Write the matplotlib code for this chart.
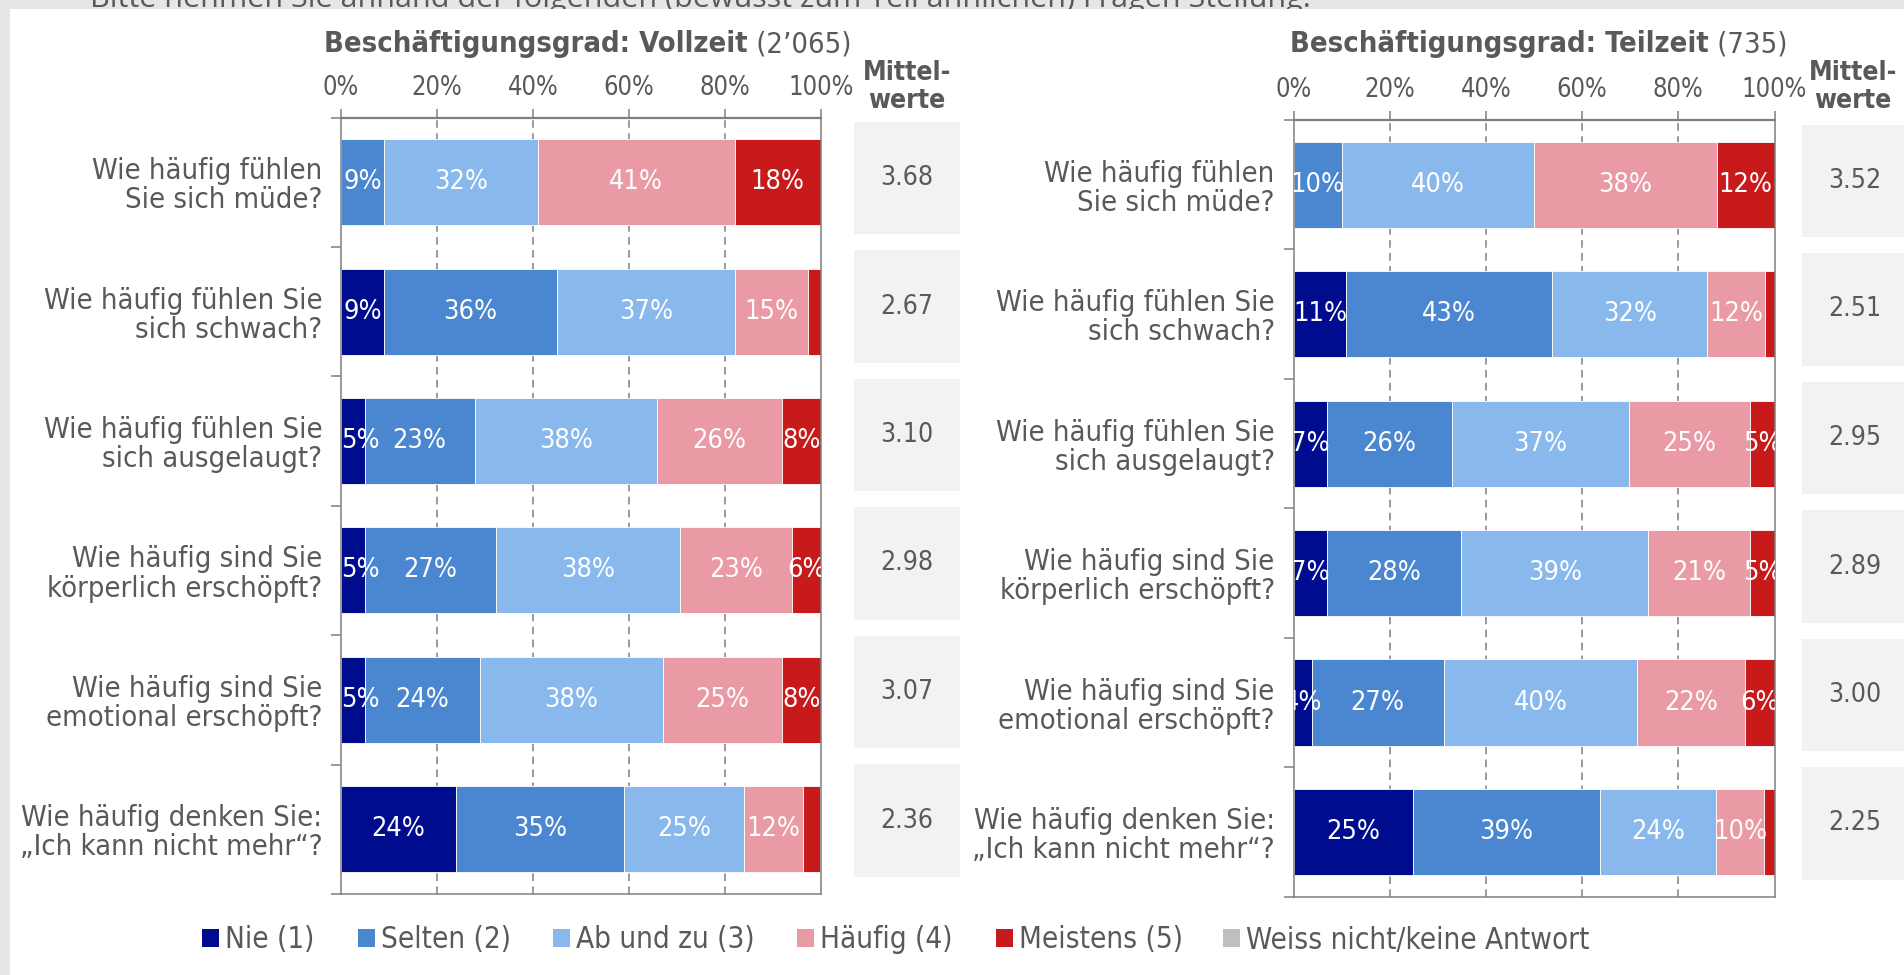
import os
import matplotlib
matplotlib.use("Agg")
import matplotlib.pyplot as plt
from matplotlib import font_manager
from matplotlib.patches import Rectangle, Patch
from matplotlib.ticker import FixedLocator, NullFormatter
import numpy as np

# ---------------------------------------------------------------- data
questions = [
    "Wie häufig fühlen\nSie sich müde?",
    "Wie häufig fühlen Sie\nsich schwach?",
    "Wie häufig fühlen Sie\nsich ausgelaugt?",
    "Wie häufig sind Sie\nkörperlich erschöpft?",
    "Wie häufig sind Sie\nemotional erschöpft?",
    "Wie häufig denken Sie:\n„Ich kann nicht mehr“?",
]
series_names = ["Nie (1)", "Selten (2)", "Ab und zu (3)", "Häufig (4)",
                "Meistens (5)", "Weiss nicht/keine Antwort"]
series_colors = ["#000C8E", "#4A87D0", "#88B8EC", "#E99AA4", "#C81A1B", "#BFBFBF"]

# Vollzeit (n = 2'065), shares in percent
vz_nie = [0.0, 8.9, 4.9, 4.9, 4.9, 23.9]
vz_selten = [8.9, 36.1, 23.0, 27.3, 24.0, 35.1]
vz_abundzu = [32.1, 37.0, 38.0, 38.4, 38.1, 24.9]
vz_haeufig = [41.0, 15.2, 26.0, 23.4, 24.9, 12.4]
vz_meistens = [18.0, 2.8, 8.1, 6.0, 8.1, 3.4]
vz_weissnicht = [0.0, 0.0, 0.0, 0.0, 0.0, 0.0]
vz_means = [3.68, 2.67, 3.10, 2.98, 3.07, 2.36]

# Teilzeit (n = 735), shares in percent
tz_nie = [0.0, 11.0, 6.9, 6.9, 3.8, 24.8]
tz_selten = [10.0, 42.8, 26.0, 28.0, 27.4, 38.9]
tz_abundzu = [39.9, 32.2, 36.9, 38.9, 40.3, 24.2]
tz_haeufig = [38.1, 12.1, 25.1, 21.1, 22.4, 10.0]
tz_meistens = [12.0, 1.9, 5.1, 5.1, 6.1, 2.1]
tz_weissnicht = [0.0, 0.0, 0.0, 0.0, 0.0, 0.0]
tz_means = [3.52, 2.51, 2.95, 2.89, 3.00, 2.25]

x_ticks = [0, 20, 40, 60, 80, 100]
x_ticklabels = ["0%", "20%", "40%", "60%", "80%", "100%"]

# ---------------------------------------------------------------- fonts
def pick_font():
    for f in font_manager.fontManager.ttflist:
        if os.path.basename(f.fname).lower() == "dejavusanscondensed.ttf":
            return "DejaVu Sans", "condensed", 1.0
    names = {f.name for f in font_manager.fontManager.ttflist}
    if "Liberation Sans Narrow" in names:
        return "Liberation Sans Narrow", "normal", 1.05
    return "DejaVu Sans", "normal", 0.9

FAMILY, STRETCH, FS = pick_font()
plt.rcParams["font.family"] = FAMILY
plt.rcParams["font.stretch"] = STRETCH
TXT = "#595959"
GRID = "#7F7F7F"

W, H = 1904, 975
fig = plt.figure(figsize=(W / 100, H / 100), dpi=100, facecolor="#E6E6E6")


def fx(x):
    return x / W


def fy(y):
    return 1 - y / H


def pt(px):
    return px * 0.72


# white sheet and the instruction line running above its top edge
fig.add_artist(Rectangle((fx(10), 0), 1 - fx(10), fy(9), transform=fig.transFigure,
                         facecolor="white", edgecolor="none", zorder=-1))
fig.text(fx(90), fy(7), "Bitte nehmen Sie anhand der folgenden (bewusst zum Teil ähnlichen) Fragen Stellung.",
         family="Open Sans", stretch="normal", fontsize=pt(30.5), color=TXT,
         ha="left", va="baseline", zorder=-2)


def draw_panel(box, series, title_bold, title_n, title_x, means, mbox, head_x,
               keep_left_inside):
    x0, x1, ytop, ybot = box
    ax = fig.add_axes([fx(x0), fy(ybot), fx(x1) - fx(x0), fy(ytop) - fy(ybot)])
    n = len(questions)
    y = np.arange(n)
    left = np.zeros(n)
    ax_w_px = x1 - x0
    for vals, col in zip(series, series_colors):
        vals = np.asarray(vals, dtype=float)
        mask = vals > 0
        ax.barh(y[mask], vals[mask], left=left[mask], height=0.665, color=col,
                edgecolor="white", linewidth=0.6, zorder=2)
        for yi, v, l in zip(y, vals, left):
            if v >= 3.5:
                xc = l + v / 2
                lbl = f"{v:.0f}%"
                if keep_left_inside:
                    half = len(lbl) * 0.34 * 27 / ax_w_px * 100
                    xc = max(xc, half + 0.3)
                ax.text(xc, yi, lbl, ha="center", va="center", color="white",
                        fontsize=pt(27) * FS, zorder=3, clip_on=True)
        left = left + vals

    ax.set_xlim(0, 100)
    ax.set_ylim(n - 0.5, -0.5)
    ax.set_facecolor("white")
    for s in ax.spines.values():
        s.set_color(GRID)
        s.set_linewidth(1.1)
    ax.spines["top"].set_linewidth(1.6)

    ax.xaxis.set_ticks_position("top")
    ax.set_xticks(x_ticks)
    ax.set_xticklabels(x_ticklabels)
    ax.tick_params(axis="x", which="major", direction="out", length=6.5, width=1.1,
                   color=GRID, pad=5.5, labelsize=pt(25.5) * FS, labelcolor=TXT)
    for gx in x_ticks[1:-1]:
        ax.axvline(gx, color=GRID, linewidth=1.1, linestyle=(0, (5, 3.5)), zorder=1)

    ax.set_yticks(y)
    ax.set_yticklabels(questions)
    ax.yaxis.set_minor_locator(FixedLocator(np.arange(n + 1) - 0.5))
    ax.yaxis.set_minor_formatter(NullFormatter())
    ax.tick_params(axis="y", which="major", length=0, pad=13.5,
                   labelsize=pt(29) * FS, labelcolor=TXT)
    ax.tick_params(axis="y", which="minor", direction="out", length=7, width=1.1,
                   color=GRID)
    for t in ax.get_yticklabels():
        t.set_linespacing(1.05)
        t.set_multialignment("right")

    # title: bold caption followed by the sample size
    r = fig.canvas.get_renderer()
    t1 = fig.text(fx(title_x), fy(44), title_bold, weight="bold", fontsize=pt(29) * FS,
                  color=TXT, ha="left", va="center")
    w1 = t1.get_window_extent(r).width
    fig.text(fx(title_x + w1), fy(44), title_n, fontsize=pt(29) * FS,
             color=TXT, ha="left", va="center")

    # mean-value column
    mx0, mx1, mtop, mbot = mbox
    mx = fig.add_axes([fx(mx0), fy(mbot), fx(mx1) - fx(mx0), fy(mtop) - fy(mbot)])
    mx.barh(y, [1] * n, left=0, height=0.872, color="#F2F2F2", edgecolor="none")
    for yi, m in zip(y, means):
        mx.text(0.5, yi, f"{m:.2f}", ha="center", va="center", color=TXT,
                fontsize=pt(26.5) * FS)
    mx.set_xlim(0, 1)
    mx.set_ylim(n - 0.5, -0.5)
    mx.axis("off")
    fig.text(fx(head_x), fy(87), "Mittel-\nwerte", weight="bold", fontsize=pt(26.5) * FS,
             color=TXT, ha="center", va="center", multialignment="center", linespacing=1.05)
    return ax


draw_panel((341, 821, 117.5, 894),
           [vz_nie, vz_selten, vz_abundzu, vz_haeufig, vz_meistens, vz_weissnicht],
           "Beschäftigungsgrad: Vollzeit", " (2’065)", 324, vz_means,
           (854, 960, 113.75, 884.75), 907, True)
draw_panel((1293.5, 1774.5, 120, 896.7),
           [tz_nie, tz_selten, tz_abundzu, tz_haeufig, tz_meistens, tz_weissnicht],
           "Beschäftigungsgrad: Teilzeit", " (735)", 1290, tz_means,
           (1802, 1908, 116.75, 887.75), 1853, False)

# legend: one entry per slot along the bottom row
legend_x = [201.6, 358, 552.5, 796.6, 995.7, 1222.8]
for name, col, lx in zip(series_names, series_colors, legend_x):
    fig.legend([Patch(facecolor=col, edgecolor="none")], [name], loc="center left",
               bbox_to_anchor=(fx(lx), fy(940)), frameon=False,
               fontsize=pt(29.5) * FS, labelcolor=TXT, handlelength=0.58, handleheight=0.58,
               handletextpad=0.2, borderpad=0, borderaxespad=0)

fig.savefig("out.png", dpi=100, facecolor=fig.get_facecolor())
